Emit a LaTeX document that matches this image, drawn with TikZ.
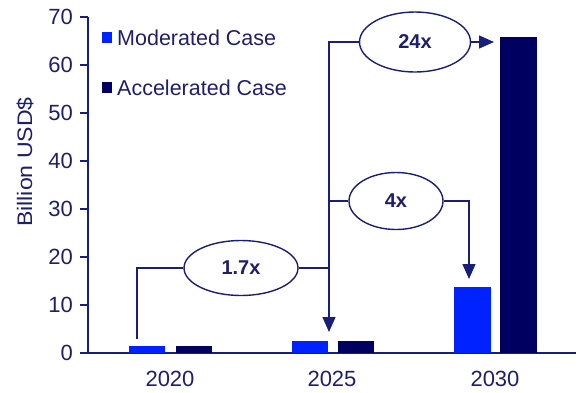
\documentclass[tikz,border=0pt]{standalone}
\usepackage{fontspec}
\setmainfont{Liberation Sans}
\usetikzlibrary{shapes.geometric,arrows.meta}
\definecolor{txt}{RGB}{30,30,110}
\definecolor{ln}{RGB}{25,30,120}
\definecolor{modblue}{RGB}{0,34,255}
\definecolor{accnavy}{RGB}{0,0,96}
\tikzset{
  axis/.style={draw=ln,line width=1.4pt},
  conn/.style={draw=ln,line width=1.4pt},
  arr/.style={conn,-{Triangle[width=13pt,length=15pt]}},
  lbl/.style={text=txt,font=\fontsize{22}{25}\selectfont,inner sep=0pt},
  ratio/.style={ellipse,draw=ln,line width=1.4pt,fill=white,inner sep=0pt,
    text=txt,font=\fontsize{20}{23}\selectfont\bfseries},
  modbar/.style={fill=modblue,draw=none},
  accbar/.style={fill=accnavy,draw=none},
}
\begin{document}
\begin{tikzpicture}[x=1pt,y=-1pt]
\useasboundingbox (0,0) rectangle (579,392);
% axes
\coordinate (ytop) at (88,17);
\coordinate (orig) at (88,353);
\coordinate (xend) at (576,353);
\draw[axis] (ytop) -- (orig) -- (xend);
\foreach \v in {0,10,...,70}{
  \draw[axis] (80,353-4.8*\v) -- (88,353-4.8*\v);
  \node[lbl,anchor=east] (tick\v) at (73,353-4.8*\v) {\v};
}
\node[lbl,rotate=90,font=\fontsize{21}{24}\selectfont] (ylab) at (25,162) {\scalebox{1.1}[1]{Billion USD\$}};
% bars
\fill[modbar] (129,346) rectangle (165,353);
\fill[accbar] (176,346) rectangle (212,353);
\fill[modbar] (292,341) rectangle (328,353);
\fill[accbar] (338,341) rectangle (374,353);
\fill[modbar] (454,287) rectangle (491,353);
\fill[accbar] (500,37) rectangle (537,353);
% year labels
\node[lbl] (y2020) at (170,379) {2020};
\node[lbl] (y2025) at (332,379) {2025};
\node[lbl] (y2030) at (495,379) {2030};
% legend
\fill[modbar] (102,32) rectangle (112,43);
\node[lbl,anchor=west,font=\fontsize{21.5}{24}\selectfont] (legm) at (117,37.5) {Moderated Case};
\fill[accbar] (102,82) rectangle (112,93);
\node[lbl,anchor=west,font=\fontsize{21.5}{24}\selectfont] (lega) at (117,87.5) {Accelerated Case};
% ratio ellipses
\node[ratio,minimum width=114pt,minimum height=55pt] (e17) at (241,268) {1.7x};
\node[ratio,minimum width=94pt,minimum height=57pt] (e4) at (396,201) {4x};
\node[ratio,minimum width=111pt,minimum height=60pt] (e24) at (415,42) {24x};
% connectors
\coordinate (s17) at (137,339);
\coordinate (j25) at (329,268);
\coordinate (t25) at (329,332);
\coordinate (v24) at (329,42);
\coordinate (t30) at (469,279);
\coordinate (t24) at (494,42);
\draw[conn] (s17) |- (e17.west);
\draw[conn] (e17.east) -- (j25);
\draw[arr] (j25) -- (t25);
\draw[conn] (j25) -- (v24) -- (e24.west);
\draw[conn] (e4.west -| j25) -- (e4.west);
\draw[arr] (e4.east) -| (t30);
\draw[arr] (e24.east) -- (t24);
\end{tikzpicture}
\end{document}
